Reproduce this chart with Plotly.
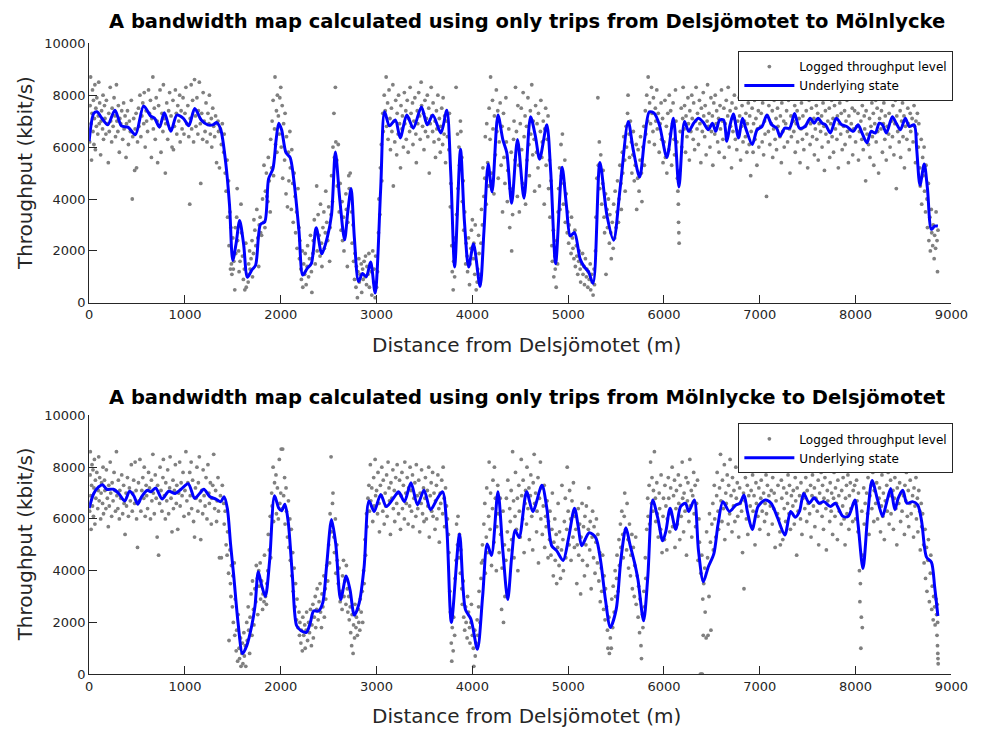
import plotly.graph_objects as go

# ---------------- DATA ----------------
top_title = "A bandwidth map calculated using only trips from Delsjömotet to Mölnlycke"
bot_title = "A bandwidth map calculated using only trips from Mölnlycke to Delsjömotet"
x_label = "Distance from Delsjömotet (m)"
y_label = "Throughput (kbit/s)"
x_ticks = [0, 1000, 2000, 3000, 4000, 5000, 6000, 7000, 8000, 9000]
y_ticks = [0, 2000, 4000, 6000, 8000, 10000]

top_state = [(0,6227),(48,7296),(82,7360),(133,7108),(194,6856),(269,7422),(337,6818),(405,6768),(483,6479),(568,7586),(643,7196),(683,7108),(734,6768),(785,7322),(853,6605),(915,7234),(983,7108),(1040,6818),(1102,7485),(1170,7045),(1238,6856),(1289,6856),(1333,6944),(1374,6667),(1425,5409),(1465,3774),(1499,1635),(1533,2264),(1571,3170),(1612,2264),(1652,981),(1697,1258),(1737,1447),(1788,3019),(1833,3120),(1873,4780),(1918,5158),(1952,6290),(1979,6919),(2009,6667),(2054,5787),(2098,5598),(2139,4655),(2190,2768),(2230,1069),(2275,1321),(2319,1510),(2370,2893),(2428,1887),(2485,2516),(2530,3397),(2570,5812),(2615,4026),(2666,2428),(2700,3522),(2734,4403),(2768,2516),(2812,818),(2853,1132),(2893,1006),(2938,1572),(2985,377),(3043,4403),(3084,7359),(3135,6818),(3196,7045),(3247,6353),(3315,7234),(3383,6730),(3468,7548),(3529,6856),(3587,7234),(3672,6542),(3733,7422),(3774,5032),(3815,1384),(3876,5913),(3917,3145),(3961,1384),(4012,2264),(4080,629),(4121,2768),(4165,5347),(4206,4277),(4267,7234),(4318,6290),(4359,5787),(4410,3837),(4471,6290),(4539,4026),(4607,7170),(4658,6416),(4702,5535),(4777,6856),(4818,5032),(4869,1510),(4937,5221),(4981,3774),(5022,2579),(5066,2705),(5124,1698),(5168,1384),(5212,1195),(5260,755),(5331,5409),(5406,3334),(5474,2415),(5542,4403),(5627,6982),(5678,5913),(5746,4843),(5797,6290),(5848,7359),(5899,7296),(5952,6856),(6030,5598),(6098,7108),(6156,4466),(6214,6982),(6258,6605),(6309,6919),(6360,7108),(6411,6944),(6462,6667),(6506,6919),(6540,6605),(6581,7045),(6622,7045),(6656,6227),(6690,6856),(6724,7271),(6778,6353),(6819,7108),(6853,6730),(6921,6101),(6972,6667),(7023,6793),(7074,7234),(7125,6856),(7176,6730),(7210,6416),(7261,6730),(7312,6730),(7363,7296),(7414,6730),(7472,6793),(7526,7108),(7567,6919),(7608,7108),(7652,6919),(7686,6856),(7737,6542),(7798,7108),(7856,6856),(7907,6793),(7975,6605),(8026,6856),(8067,6542),(8118,6164),(8162,6605),(8206,6542),(8247,6919),(8281,6856),(8322,6542),(8383,7170),(8424,6919),(8468,6667),(8519,7108),(8560,6793),(8611,6856),(8638,5913),(8672,4529),(8716,5347),(8750,4403),(8791,2830),(8825,2956),(8859,2956)]

bot_state = [(0,6416),(48,6984),(99,7237),(139,7325),(184,7148),(252,7148),(309,6984),(371,6694),(422,7073),(466,6896),(507,6568),(547,6858),(609,7110),(643,7047),(694,7199),(762,6770),(830,7073),(898,6984),(959,7148),(1034,7363),(1102,6795),(1153,6984),(1197,7148),(1261,6858),(1323,6770),(1374,6669),(1408,6858),(1442,6416),(1476,5027),(1510,3764),(1554,1996),(1601,796),(1646,1111),(1697,1869),(1731,2627),(1765,3953),(1799,3448),(1839,3006),(1884,4395),(1935,6896),(1979,6416),(2009,6315),(2043,6568),(2077,5911),(2122,3764),(2166,1869),(2213,1680),(2268,1617),(2309,1996),(2343,2438),(2394,2438),(2438,2753),(2479,4206),(2530,5974),(2574,5027),(2625,2880),(2683,3789),(2723,3258),(2768,2273),(2819,2753),(2870,4143),(2921,6694),(2975,6290),(3043,6947),(3101,6479),(3179,6820),(3230,7048),(3291,6669),(3359,7401),(3427,6542),(3495,7111),(3563,6353),(3631,6770),(3689,7048),(3733,5658),(3781,1996),(3866,5406),(3927,2501),(3985,2122),(4053,960),(4107,3006),(4155,5027),(4199,4585),(4267,7048),(4318,4774),(4369,2880),(4410,4522),(4447,5557),(4488,5279),(4566,7048),(4631,6290),(4726,7300),(4777,6416),(4828,4964),(4879,4774),(4947,4395),(5005,5279),(5066,6416),(5107,5658),(5141,4964),(5219,5469),(5287,5279),(5338,4395),(5389,2880),(5440,1806),(5501,2501),(5549,4395),(5603,5658),(5644,5027),(5695,4269),(5729,3637),(5787,2059),(5831,3764),(5882,6732),(5935,6037),(5986,5153),(6020,5532),(6064,6416),(6122,5595),(6173,6479),(6224,6606),(6258,6290),(6316,6732),(6360,4774),(6411,3574),(6462,4143),(6520,4648),(6564,5784),(6615,6669),(6683,6290),(6751,6542),(6792,6606),(6836,6921),(6870,6290),(6921,5595),(6982,6479),(7057,6732),(7118,6606),(7186,6037),(7261,5380),(7322,6290),(7370,6063),(7414,6290),(7458,6984),(7516,6606),(7567,6820),(7618,6606),(7669,6669),(7737,6479),(7788,6606),(7866,6101),(7924,6101),(7992,6732),(8026,5784),(8077,4080),(8128,6226),(8172,7489),(8230,6732),(8281,6101),(8322,6606),(8366,7174),(8410,6353),(8444,6795),(8492,7111),(8536,6606),(8594,6669),(8648,6542),(8689,5911),(8740,4522),(8791,4332),(8825,3384),(8859,2248)]

# logged throughput samples, top panel (distance m, kbit/s)
top_dots_a = [(5,6200),(10,7600),(15,8700),(20,6900),(25,5500),(30,7300),(35,8200),(40,6600),(45,7800),(50,6100),(55,7100),(60,8400),(65,5900),(70,7500),(75,6800),(80,7900),(90,6500),(95,7200),(100,8500),(105,6900),(110,7700),(120,5700),(125,7000),(130,7400),(140,6700),(145,8000),(150,6300),(160,7600),(165,7100),(175,6500),(180,7800),(190,6900),(200,5400),(205,7300),(210,6600),(220,8300),(225,7000),(235,6200),(240,7500),(250,6800),(260,7900),(270,7200),(275,6400),(285,8400),(290,7000),(300,6600),(305,7600),(315,5800),(320,7100),(330,6900),(340,7400),(350,6300),(360,7700),(365,6700),(375,7200),(385,5600),(390,6900),(400,7400),(410,6100),(420,7000),(430,6600),(440,7800),(450,4000),(455,6400),(465,7100),(475,5100),(480,6700),(490,7300),(495,5200)]
top_dots_b = [(505,6200),(515,7500),(520,6800),(530,8000),(540,6400),(550,7200),(560,7700),(570,6900),(575,8100),(585,6000),(595,7400),(600,7000),(610,6600),(620,8200),(630,7300),(640,7800),(650,5600),(655,7100),(665,8700),(670,6700),(680,7500),(690,6300),(700,7900),(710,7000),(715,5400),(725,7600),(735,6800),(740,8200),(750,5800),(760,7300),(770,6600),(775,8400),(785,7100),(795,5000),(800,6900),(810,7700),(820,6300),(830,7400),(840,8100),(845,6700),(855,7200),(865,6000),(875,7800),(880,5900),(890,6800),(900,8200),(910,7300),(915,6500),(925,7600),(935,7000),(945,8000),(950,6200),(960,7400),(970,6700),(980,7900),(990,6500)]
top_dots_c = [(1000,7300),(1010,8300),(1020,6900),(1030,7600),(1040,6400),(1050,3800),(1055,7100),(1065,8400),(1070,6700),(1080,7800),(1090,6200),(1100,8600),(1110,7200),(1115,6800),(1125,7900),(1135,6500),(1140,7400),(1150,8500),(1160,6900),(1165,4600),(1175,7300),(1185,6300),(1190,8100),(1200,7000),(1210,6600),(1220,7700),(1230,6200),(1240,7300),(1250,6900),(1255,8000),(1265,6500),(1275,7100),(1280,6000),(1290,7500),(1300,6800),(1310,6400),(1320,7200),(1330,5400),(1335,6900),(1345,7000),(1350,6600),(1360,5200),(1370,6700),(1380,6100),(1390,6900)]
top_dots_d = [(1405,5800),(1410,6500),(1420,5000),(1430,4300),(1440,5500),(1445,3300),(1455,4700),(1460,2200),(1470,3500),(1475,1300),(1480,2900),(1485,1500),(1490,1100),(1500,2500),(1505,1300),(1510,1600),(1520,500),(1525,2900),(1530,1900),(1540,3300),(1545,4400),(1550,2400),(1560,2000),(1565,1200),(1575,1600),(1585,3800),(1590,2700),(1600,1800),(1610,900),(1620,1300),(1625,500),(1635,2300),(1640,600),(1650,1100),(1660,800),(1665,1500),(1675,2000),(1680,1300),(1690,1700),(1700,2400),(1705,1000),(1715,1900),(1720,3200),(1730,2800),(1740,2200),(1750,3600),(1760,2500),(1770,1400),(1775,3000),(1785,3300),(1790,2700),(1800,2600),(1810,4000),(1820,3100),(1825,5300),(1835,2900),(1840,4300),(1850,5000),(1855,4100),(1865,3900),(1870,5600),(1880,4700),(1890,3500),(1895,6300),(1905,5200),(1910,7000),(1920,7800),(1925,4900),(1935,6700),(1940,8700),(1945,6100),(1955,7400),(1960,5800),(1965,8000),(1975,7200),(1985,6500),(1990,7900)]
top_dots_e = [(2000,8300),(2005,6000),(2015,7600),(2020,4800),(2030,6900),(2040,5500),(2045,7300),(2055,4200),(2060,6400),(2070,3700),(2080,5800),(2085,4700),(2095,6600),(2100,5200),(2110,3600),(2115,5900),(2125,4600),(2130,3100),(2140,5000),(2150,4100),(2155,2700),(2165,3500),(2170,2100),(2180,4400),(2190,2900),(2195,1700),(2200,2400),(2210,1300),(2215,900),(2225,2000),(2230,600),(2240,1500),(2250,1100),(2255,1900),(2265,700),(2275,1400),(2280,2200),(2290,1000),(2300,1700),(2310,2600),(2320,1200),(2325,400),(2335,1900),(2340,2400),(2350,3200),(2360,1500),(2365,2700),(2375,4500),(2380,2000),(2390,3400),(2400,2600),(2410,1800),(2415,3800),(2425,2300),(2430,1400),(2440,2900),(2450,3500),(2455,2100),(2465,2700),(2470,4300),(2480,3100),(2490,2400),(2500,3700),(2510,1600),(2515,2900),(2525,3400),(2530,4900),(2540,3900),(2545,6000),(2555,7300),(2560,5600),(2570,8300),(2575,6200),(2585,5500),(2590,4500)]
top_dots_f = [(2600,6100),(2610,3500),(2620,4600),(2630,2800),(2640,3900),(2645,2400),(2655,3300),(2660,2000),(2670,2700),(2680,4200),(2685,3600),(2695,1400),(2700,3100),(2710,4900),(2715,4400),(2725,5000),(2730,4100),(2740,3500),(2745,2300),(2755,3000),(2760,1600),(2770,900),(2775,1900),(2785,600),(2790,1400),(2800,200),(2805,1200),(2815,1700),(2820,800),(2830,1100),(2840,1500),(2845,400),(2855,1300),(2860,900),(2870,1600),(2880,1000),(2885,1800),(2895,700),(2900,1400),(2910,1100),(2920,1900),(2925,600),(2935,1500),(2945,1200),(2950,300),(2960,2000),(2970,800),(2975,1300),(2985,200),(2990,1800),(3000,600),(3010,1200),(3020,2700),(3025,4000),(3035,3400),(3040,5200),(3050,6100),(3055,4700),(3065,7300),(3070,6600),(3080,8000),(3090,7400)]
top_dots_g = [(3100,8700),(3105,6800),(3115,7700),(3120,6300),(3130,8200),(3140,7100),(3145,5900),(3155,7500),(3160,6600),(3170,8400),(3175,4500),(3185,7000),(3190,6200),(3200,7800),(3210,5700),(3215,7300),(3225,6500),(3230,8000),(3240,6900),(3250,5200),(3255,7600),(3265,6700),(3270,7200),(3280,6000),(3290,8100),(3295,6900),(3305,7400),(3310,6300),(3320,7800),(3330,5800),(3335,7100),(3345,6600),(3350,8300),(3360,7300),(3365,6800),(3375,7700),(3380,6100),(3390,7000),(3400,7900),(3410,6500),(3415,5400),(3425,7400),(3430,6900),(3440,8100),(3450,7200),(3455,6300),(3465,8500),(3470,7600),(3480,6800),(3490,7300),(3495,5900),(3505,7800),(3510,6600),(3520,7100),(3530,8000),(3535,6400),(3545,7500),(3550,5000),(3560,6900),(3570,8300),(3575,7200),(3585,6600),(3590,7700),(3600,6200),(3610,7000),(3615,5600),(3625,7400),(3630,6700),(3640,8000),(3650,6300),(3655,7100),(3665,5800),(3670,6800),(3680,7500),(3690,6100),(3695,7900),(3705,6500),(3710,7200),(3720,5400),(3730,7000),(3740,6400)]
top_dots_h = [(3755,5900),(3760,7300),(3770,3700),(3775,4600),(3785,2200),(3790,1200),(3800,500),(3805,1600),(3815,1000),(3820,2500),(3830,8300),(3835,3400),(3845,6500),(3850,4400),(3860,6000),(3865,5300),(3875,7000),(3880,6600),(3890,5600),(3895,3900),(3905,4700),(3910,2800),(3920,3500),(3930,1500),(3935,2300),(3945,1800),(3950,1200),(3960,2500),(3970,700),(3975,1500),(3985,2100),(3990,2800),(4000,3200),(4010,1700),(4015,2300),(4025,1100),(4030,3000),(4040,500),(4050,800),(4055,1300),(4065,2600),(4070,1900),(4080,1100),(4090,2300),(4095,3600),(4105,3000),(4110,5200),(4120,4100),(4130,4800),(4135,6400),(4145,3800),(4150,6900),(4160,5400),(4170,4500),(4175,7500),(4185,6300),(4190,8700),(4200,5000),(4210,7800),(4215,6700),(4225,4200),(4230,7200),(4240,5700),(4250,8200),(4255,6600),(4265,7400),(4270,4800),(4280,6200),(4290,7700)]
top_dots_i = [(4300,5300),(4310,6800),(4315,3500),(4325,7300),(4330,5600),(4340,4600),(4350,7900),(4355,6200),(4365,3900),(4370,5100),(4380,6700),(4390,2900),(4395,4400),(4405,5800),(4410,2000),(4420,3400),(4430,6300),(4435,7000),(4445,5500),(4450,8300),(4460,6600),(4470,4100),(4475,7600),(4485,5300),(4490,3500),(4500,6900),(4510,7500),(4515,5900),(4525,4600),(4530,8100),(4540,6400),(4550,7200),(4555,3800),(4565,6800),(4570,5500),(4580,7900),(4590,6100),(4595,4900),(4605,7400),(4610,6500),(4620,8400),(4630,5700),(4635,7000),(4645,6300),(4650,4300),(4660,7600),(4670,5800),(4675,6900),(4685,5200),(4690,7300),(4700,4500),(4710,6600),(4715,7800),(4725,5600),(4730,6200),(4740,7000),(4750,3800),(4755,6700),(4765,7500),(4770,5300),(4780,6300),(4790,7200),(4795,4400),(4805,5500),(4810,3300),(4820,4700),(4830,2200),(4835,1600),(4845,2800),(4850,1000),(4860,1800),(4865,1300),(4875,600),(4880,2400),(4890,1500),(4895,3500)]
top_dots_j = [(4900,4400),(4910,5200),(4915,3600),(4925,6100),(4930,4900),(4940,6500),(4950,3800),(4955,4600),(4965,5500),(4970,3100),(4980,4200),(4990,2700),(4995,3500),(5005,2300),(5010,3000),(5020,2600),(5030,1900),(5035,3300),(5045,2500),(5050,2100),(5060,1700),(5070,2800),(5075,1400),(5085,2200),(5090,1800),(5100,1100),(5110,1600),(5115,2000),(5125,1300),(5130,800),(5140,1500),(5150,1900),(5155,1100),(5165,1400),(5170,700),(5180,1700),(5190,1000),(5195,1300),(5205,600),(5210,1200),(5220,900),(5230,1500),(5235,500),(5245,1100),(5250,800),(5260,300),(5270,1300),(5275,700),(5285,2000),(5290,3300),(5300,4800),(5310,7900),(5315,5300),(5325,6200),(5330,4400),(5340,5700),(5350,3800),(5360,4600),(5365,5100),(5375,3300),(5380,2700),(5390,4200),(5395,1100)]
top_dots_k = [(5405,3600),(5410,2900),(5420,4000),(5430,2300),(5435,3400),(5445,2700),(5450,1700),(5460,3100),(5470,2100),(5475,3800),(5485,2500),(5490,4300),(5500,2900),(5510,3500),(5515,4700),(5525,3100),(5530,4000),(5540,5300),(5550,4600),(5555,3600),(5565,5800),(5570,5000),(5580,6400),(5590,5500),(5595,4300),(5605,6800),(5610,6000),(5620,7300),(5625,8000),(5635,6500),(5640,5600),(5650,7000),(5660,6200),(5665,5000),(5675,5700),(5680,6600),(5690,4700),(5700,5300),(5710,6100),(5715,3600),(5725,4800),(5730,5900),(5740,4300),(5750,5500),(5755,6400),(5765,5000),(5770,3900),(5780,6000),(5790,6800),(5795,5300),(5805,7400),(5810,6500),(5820,8000),(5830,7000),(5835,8700),(5845,6200),(5850,7700),(5860,6900),(5870,8300),(5875,7300),(5885,6600),(5890,7900),(5900,6100),(5910,7500),(5915,7000),(5925,8200),(5930,6700),(5940,7300),(5950,5800),(5960,6900),(5970,7700),(5975,6300),(5985,7100),(5990,5400)]
top_dots_l = [(6000,6200),(6010,7800),(6015,5600),(6025,6800),(6030,5000),(6040,7300),(6050,5900),(6055,8000),(6065,6500),(6070,7400),(6080,5300),(6090,6900),(6095,7700),(6105,6300),(6110,5700),(6120,8200),(6125,7000),(6135,6200),(6140,4800),(6145,4300),(6150,3800),(6152,3100),(6155,2700),(6158,2300),(6165,5100),(6170,6600),(6180,7500),(6185,6000),(6195,7100),(6200,8300),(6210,6700),(6215,7600),(6225,5800),(6230,7200),(6240,6400),(6250,7900),(6255,6900),(6265,5500),(6270,7400),(6280,6600),(6290,8000),(6295,7100),(6305,6300),(6310,7700),(6320,5900),(6330,7000),(6335,8300),(6345,6700),(6350,7300),(6360,6100),(6370,7800),(6375,6900),(6385,5400),(6390,7500),(6400,6600),(6410,8100),(6415,7200),(6425,6400),(6430,7600),(6440,5700),(6450,7000),(6455,8400),(6465,6800),(6470,7300),(6480,6000),(6490,7900),(6495,6600),(6505,7200),(6510,5300),(6520,7700),(6530,6500),(6535,8000),(6545,6900),(6550,7400),(6560,6200),(6570,7100),(6575,5800),(6585,7600),(6590,6700)]
top_dots_m = [(6600,8200),(6610,7000),(6615,6300),(6625,7500),(6630,5600),(6640,6900),(6650,7800),(6655,6500),(6665,7200),(6670,8300),(6680,6000),(6690,7400),(6695,6800),(6705,5200),(6710,7700),(6720,6600),(6730,7100),(6735,8000),(6745,6300),(6750,7500),(6760,5900),(6770,7000),(6775,6600),(6785,7900),(6790,7200),(6800,5500),(6810,6800),(6815,7600),(6825,6200),(6830,8100),(6840,7000),(6850,6400),(6855,7300),(6865,5800),(6870,6900),(6880,7700),(6890,6100),(6895,7200),(6905,4900),(6910,6600),(6920,7500),(6930,5800),(6935,6900),(6945,7800),(6950,6300),(6960,7100),(6970,5300),(6975,6700),(6985,7400),(6990,6000),(7000,8000),(7010,6800),(7015,7300),(7025,6200),(7030,7700),(7040,5700),(7050,7000),(7055,6500),(7065,7900),(7070,4100),(7080,7200),(7090,6600),(7095,7600),(7105,6100),(7110,8200),(7120,6900),(7130,7400),(7135,5600),(7145,6700),(7150,7800),(7160,6300),(7170,7100),(7175,5900),(7185,7500),(7190,6800),(7200,8100),(7210,6400),(7215,7200),(7225,5400),(7230,7700),(7240,6600),(7250,7000),(7255,6000),(7265,7900),(7270,6900),(7280,7400),(7290,6200)]
top_dots_n = [(7300,7800),(7310,6700),(7315,5000),(7325,7200),(7330,6400),(7340,8200),(7350,7000),(7355,6600),(7365,7600),(7370,5800),(7380,6900),(7390,7400),(7395,6200),(7405,8000),(7410,7100),(7420,5400),(7430,6700),(7435,7700),(7445,6300),(7450,7200),(7460,5900),(7470,8100),(7475,6800),(7485,7400),(7490,6500),(7500,5200),(7510,7000),(7515,7800),(7525,6100),(7530,6900),(7540,7500),(7550,6400),(7555,8200),(7565,7100),(7570,5700),(7580,6700),(7590,7600),(7595,6300),(7605,7300),(7610,5500),(7620,6900),(7630,7900),(7635,6600),(7645,7200),(7650,6000),(7660,7700),(7670,6800),(7675,5100),(7685,7400),(7690,6500),(7700,8000),(7710,7000),(7715,6200),(7725,7500),(7730,5600),(7740,6900),(7750,7800),(7755,6400),(7765,7100),(7770,5800),(7780,7600),(7790,6700),(7795,8100),(7805,6300),(7810,7200),(7820,5200),(7830,6900),(7835,7700),(7845,6500),(7850,7300),(7860,5900),(7870,7900),(7875,6800),(7885,7400),(7890,6100),(7900,7000),(7910,7800),(7915,6600),(7925,5400),(7930,7200),(7940,6400),(7950,8200),(7955,6900),(7965,7500),(7970,5700),(7980,6700),(7990,7400)]
top_dots_o = [(8000,6200),(8010,7900),(8015,6800),(8025,7300),(8030,5500),(8040,6600),(8050,8100),(8055,7000),(8065,6300),(8070,7600),(8080,5900),(8090,7200),(8095,6700),(8105,4700),(8110,7400),(8120,6500),(8130,8000),(8135,6100),(8145,7100),(8150,5600),(8160,6800),(8170,7700),(8175,6400),(8185,7300),(8190,5300),(8200,6900),(8210,7800),(8215,6200),(8225,7500),(8230,6600),(8240,5000),(8250,7100),(8255,8200),(8265,6700),(8270,7400),(8280,5800),(8290,6900),(8295,7700),(8305,6300),(8310,7200),(8320,5500),(8330,6800),(8335,7900),(8345,6500),(8350,7300),(8360,6000),(8370,8100),(8375,7000),(8385,6400),(8390,7600),(8400,5700),(8410,6900),(8415,7800),(8425,4400),(8430,7200),(8440,6600),(8450,8000),(8455,6200),(8465,7400),(8470,5600),(8480,7000),(8490,7700),(8495,6400),(8505,7200),(8510,5200),(8520,6800),(8530,7900),(8535,6300),(8545,7500),(8550,6900),(8560,5900),(8570,7300),(8575,6600),(8585,8100),(8590,7100),(8600,6200),(8610,7600),(8615,6800),(8625,5400),(8630,7000),(8640,6500),(8645,7300)]
top_dots_p = [(8655,6000),(8660,6900),(8670,5200),(8675,4500),(8685,6300),(8690,3800),(8700,5600),(8705,4900),(8715,6000),(8720,4300),(8730,3500),(8735,5300),(8745,4000),(8750,2900),(8760,4600),(8765,2400),(8775,3300),(8780,2000),(8790,3600),(8795,2700),(8805,2200),(8810,3000),(8820,1700),(8825,2600),(8835,2100),(8840,3500),(8850,2400),(8855,1200),(8860,2800)]

# logged throughput samples, bottom panel (distance m, kbit/s)
bot_dots_a = [(5,6300),(10,7700),(12,8600),(15,6900),(20,5600),(25,7300),(30,8100),(35,6500),(40,7900),(45,6100),(50,7200),(55,8300),(60,5800),(65,7500),(70,6800),(80,7800),(90,6400),(95,7100),(100,8400),(105,6700),(110,7600),(120,6000),(125,7000),(130,7400),(140,6600),(145,8000),(150,6200),(160,7500),(165,7100),(175,6400),(180,7900),(190,6800),(200,5700),(205,7300),(210,6500),(220,8200),(225,7000),(235,6100),(240,7400),(250,6700),(260,7800),(270,7100),(275,6300),(285,8600),(290,6900),(300,6400),(305,7500),(315,6000),(320,7100),(330,6800),(340,7700),(350,6200),(360,7300),(365,6600),(375,5400),(385,7000),(390,6500),(400,7600),(410,6100),(420,7200),(430,6700),(440,8100),(450,6300),(455,7000),(465,7500),(475,6600),(480,8200),(490,7100),(495,6000)]
bot_dots_b = [(505,4900),(515,7400),(520,6700),(530,8300),(540,6300),(550,7100),(560,7600),(570,6800),(575,8000),(585,6100),(595,7300),(600,6900),(610,6400),(620,7800),(630,7200),(640,6000),(650,7500),(655,6700),(665,8500),(670,7000),(680,6200),(690,7700),(700,6800),(710,5300),(715,7300),(725,4600),(735,6600),(740,8000),(750,7100),(760,6300),(770,7600),(775,8300),(785,6900),(795,6000),(800,7400),(810,6700),(820,7900),(830,6200),(840,7200),(845,8400),(855,6800),(865,5500),(875,7500),(880,6400),(890,7100),(900,8100),(910,6600),(915,7300),(925,5600),(935,7000),(945,8200),(950,6500),(960,7400),(970,6900),(980,7800),(990,6100)]
bot_dots_c = [(1000,7100),(1010,8600),(1020,6700),(1030,7400),(1040,6200),(1050,7800),(1055,6900),(1065,8200),(1070,6400),(1080,7500),(1090,5900),(1100,5300),(1110,7200),(1115,6800),(1125,8000),(1135,6300),(1140,7400),(1150,8400),(1160,6700),(1165,5200),(1175,7100),(1185,6200),(1190,7900),(1200,6900),(1210,6500),(1220,7600),(1230,6000),(1240,8100),(1250,7000),(1255,6600),(1265,7400),(1275,5800),(1280,6800),(1290,7300),(1300,8500),(1310,6400),(1320,7100),(1330,5900),(1335,6700),(1345,7600),(1350,6300),(1360,4500),(1370,6900),(1380,4500),(1390,7300)]
bot_dots_d = [(1405,6600),(1410,5800),(1420,6300),(1430,5000),(1440,4600),(1445,5500),(1455,3900),(1460,1300),(1470,4800),(1475,3500),(1480,3000),(1485,4200),(1495,2600),(1500,3800),(1505,2000),(1515,4300),(1520,1500),(1525,2900),(1535,900),(1540,1700),(1550,500),(1555,2300),(1565,1000),(1570,600),(1580,1400),(1585,300),(1595,800),(1600,1200),(1605,400),(1615,1600),(1620,700),(1630,1100),(1635,300),(1645,2000),(1650,1300),(1660,2600),(1665,1700),(1675,800),(1680,2200),(1690,3100),(1700,1500),(1705,3600),(1715,2500),(1720,1900),(1730,3300),(1740,2800),(1745,4200),(1755,3700),(1760,2300),(1770,4000),(1775,3400),(1785,4300),(1790,2900),(1800,3600),(1810,2500),(1815,3100),(1825,2800),(1830,4600),(1840,3000),(1850,2700),(1855,3500),(1865,4000),(1870,5400),(1880,4800),(1890,6100),(1895,4500),(1905,7000),(1910,6500),(1920,8000),(1925,5900),(1935,7400),(1940,6800),(1950,7700),(1955,6200),(1965,7200),(1975,6000),(1985,8300),(1990,6600)]
bot_dots_e = [(2000,7000),(2005,8700),(2015,6400),(2020,8700),(2030,6900),(2040,7600),(2045,5800),(2055,7200),(2060,6300),(2070,5300),(2080,6700),(2085,4900),(2095,6000),(2100,4400),(2110,5600),(2115,3800),(2125,4700),(2130,3200),(2140,4100),(2150,2600),(2155,3500),(2165,2100),(2170,2900),(2180,1800),(2190,2400),(2195,1500),(2200,2000),(2210,1200),(2215,1700),(2225,900),(2230,2200),(2240,1500),(2250,1900),(2255,1000),(2265,1700),(2270,2400),(2280,1300),(2290,2000),(2300,1600),(2310,2500),(2320,1100),(2325,1900),(2335,2700),(2340,1400),(2350,2200),(2360,3000),(2365,1800),(2375,2500),(2380,3300),(2390,2100),(2400,2800),(2410,3500),(2415,2400),(2425,1800),(2430,3100),(2440,2600),(2450,3800),(2455,2200),(2465,3300),(2470,2900),(2480,4200),(2490,3600),(2500,5000),(2510,4300),(2515,6200),(2525,8400),(2530,5500),(2540,6600),(2545,7000),(2555,5300),(2560,4700),(2570,6000),(2575,3900),(2585,5000),(2590,4400)]
bot_dots_f = [(2600,3500),(2610,4100),(2620,2800),(2630,3200),(2640,2500),(2645,3800),(2655,4400),(2660,3000),(2670,3600),(2680,2700),(2685,4200),(2695,3300),(2700,2400),(2710,3000),(2715,2100),(2725,2600),(2730,1600),(2740,1100),(2745,2300),(2755,800),(2760,1900),(2770,1400),(2775,2700),(2785,1800),(2790,2200),(2800,1500),(2810,2500),(2815,2000),(2825,1700),(2830,2900),(2840,2400),(2850,3200),(2855,2000),(2865,4000),(2870,3500),(2880,5200),(2885,4600),(2895,6200),(2900,5700),(2910,6800),(2920,7300),(2925,6300),(2935,8100),(2940,6700),(2950,7200),(2960,5900),(2970,7600),(2975,6500),(2985,8300),(2990,6900)]
bot_dots_g = [(3000,7100),(3010,6200),(3015,7800),(3025,6600),(3030,5500),(3040,7300),(3050,6900),(3055,8000),(3065,6300),(3070,7500),(3080,5800),(3090,7000),(3095,6500),(3105,7700),(3110,6100),(3120,8200),(3130,7200),(3135,6700),(3145,5400),(3150,7400),(3160,6800),(3170,7900),(3175,6400),(3185,7100),(3190,5900),(3200,7600),(3210,6600),(3215,8100),(3225,7000),(3230,6200),(3240,7500),(3250,5600),(3255,6900),(3265,7800),(3270,6400),(3280,7300),(3290,6000),(3295,8200),(3305,7000),(3310,6600),(3320,7600),(3330,5800),(3335,7200),(3345,6500),(3350,8000),(3360,7100),(3365,6300),(3375,7700),(3380,5700),(3390,6800),(3400,7400),(3410,6100),(3415,8100),(3425,6900),(3430,6400),(3440,7500),(3450,5500),(3455,7000),(3465,6600),(3470,7900),(3480,6200),(3490,7200),(3495,5900),(3505,6800),(3510,7600),(3520,6000),(3530,7100),(3535,6500),(3545,8000),(3550,5300),(3560,6900),(3570,7400),(3575,6300),(3585,7800),(3590,6100),(3600,7000),(3610,5600),(3615,6700),(3625,7300),(3630,6000),(3640,7700),(3650,6400),(3655,5100),(3665,7000),(3670,6600),(3680,7500),(3690,6200),(3695,8000),(3705,6800),(3710,5700),(3720,7200),(3730,6500),(3740,6000)]
bot_dots_h = [(3750,5400),(3755,4700),(3765,3200),(3770,2400),(3780,1200),(3785,500),(3790,1800),(3800,900),(3805,2200),(3815,1500),(3820,3700),(3830,4400),(3835,5800),(3845,5000),(3850,6100),(3860,4500),(3865,5400),(3875,3900),(3880,4800),(3890,3300),(3895,2700),(3905,3600),(3910,2200),(3920,1700),(3930,2600),(3935,2000),(3945,1400),(3950,3000),(3960,2400),(3970,1800),(3975,1200),(3985,2000),(3990,2700),(4000,1500),(4010,1000),(4015,300),(4025,1700),(4030,700),(4040,1200),(4050,2100),(4055,1500),(4065,2600),(4070,3200),(4080,2000),(4090,3700),(4095,4300)]
bot_dots_i = [(4105,5000),(4110,4400),(4120,5800),(4130,6600),(4135,3900),(4145,5300),(4150,7200),(4160,4700),(4170,6100),(4175,8200),(4185,5600),(4190,7000),(4200,4200),(4210,6400),(4215,7500),(4225,5100),(4230,8000),(4240,6800),(4250,4000),(4255,5700),(4265,7300),(4270,6200),(4280,4700),(4290,6800),(4295,5400),(4305,2500),(4310,4100),(4320,6300),(4325,2000),(4335,5000),(4340,3000),(4350,4400),(4355,6800),(4365,5500),(4370,7500),(4380,4800),(4390,6400),(4395,5900),(4405,7100),(4410,5200),(4420,8600),(4430,6700),(4435,4500),(4445,6100),(4450,7800),(4460,5600),(4470,6800),(4475,4000),(4485,7300),(4490,6300),(4500,5300),(4510,8300),(4515,6900),(4525,6000),(4530,7500),(4540,4700),(4550,6600),(4555,7100),(4565,5800),(4570,8000),(4580,6400),(4590,7200),(4595,5200),(4605,6900),(4610,7700),(4620,6100),(4630,4800),(4635,7400),(4645,8500),(4650,6600),(4660,7000),(4670,5500),(4675,6300),(4685,7600),(4690,4300),(4700,6800),(4710,8200),(4715,6000),(4725,7200),(4730,5400),(4740,6500),(4750,7300),(4755,4900),(4765,6100),(4770,5700),(4780,6700),(4790,4500),(4795,5900)]
bot_dots_j = [(4805,5200),(4810,6300),(4820,4600),(4830,5600),(4835,7000),(4845,3800),(4850,5100),(4860,6000),(4865,4400),(4875,5400),(4880,3500),(4890,4900),(4895,6600),(4905,4200),(4910,5500),(4920,3700),(4930,4800),(4935,7300),(4945,5200),(4950,4000),(4960,5900),(4970,6800),(4975,4500),(4985,5600),(4990,8000),(5000,6300),(5010,5000),(5015,7100),(5025,6000),(5030,4400),(5040,6700),(5050,5300),(5055,7400),(5065,4900),(5070,6100),(5080,5600),(5090,3500),(5095,5000),(5105,6400),(5110,4600),(5120,5800),(5130,3100),(5135,5300),(5145,6600),(5150,4400),(5160,5700),(5170,3800),(5175,6100),(5185,5000),(5190,6500),(5200,4200),(5210,5600),(5215,7200),(5225,4800),(5230,5900),(5240,3300),(5250,5300),(5255,6300),(5265,4500),(5270,5700),(5280,3900),(5290,5100),(5295,6000),(5305,4300),(5310,5400),(5320,3600),(5330,4700),(5335,2800),(5345,4100),(5350,3200),(5360,4600),(5370,2500),(5375,3800),(5385,2100),(5390,3300)]
bot_dots_k = [(5400,2600),(5410,1700),(5415,1000),(5425,2200),(5430,800),(5440,1400),(5450,1000),(5455,2900),(5465,1800),(5470,3400),(5480,2400),(5490,4000),(5495,3000),(5505,3700),(5510,4600),(5520,3200),(5530,5200),(5535,4200),(5545,5800),(5550,4900),(5560,6300),(5570,5400),(5575,4500),(5585,6100),(5590,7000),(5600,5600),(5610,4800),(5615,6600),(5625,5200),(5630,4100),(5640,5800),(5650,3800),(5655,4600),(5665,5400),(5670,3300),(5680,4900),(5690,3000),(5695,4200),(5705,5300),(5710,2700),(5720,3800),(5730,2200),(5735,3400),(5745,1600),(5750,2900),(5760,1100),(5765,600),(5775,2300),(5780,1800),(5790,3200),(5795,2600),(5805,4500),(5810,3700),(5820,5600),(5830,6800),(5835,6100),(5845,7300),(5850,5800),(5860,8200),(5870,6600),(5875,7600),(5885,6300),(5890,7100)]
bot_dots_l = [(5900,8600),(5910,6800),(5915,5900),(5925,7400),(5930,6200),(5940,5300),(5950,7000),(5955,6400),(5965,5600),(5970,7700),(5980,4700),(5990,6100),(5995,6800),(6005,5200),(6010,7300),(6020,6500),(6030,4800),(6035,6000),(6045,7600),(6050,6800),(6060,5500),(6070,7200),(6075,6200),(6085,8000),(6090,5700),(6100,6900),(6110,7500),(6115,4900),(6125,6400),(6130,7100),(6140,5800),(6150,7700),(6155,6600),(6165,5200),(6170,7300),(6180,6100),(6190,8200),(6195,6800),(6205,5500),(6210,7000),(6220,6300),(6230,7600),(6235,4600),(6245,6700),(6250,7400),(6260,5900),(6270,8300),(6275,6500),(6285,7100),(6290,5300),(6300,6900),(6310,7800),(6315,6200),(6325,7300),(6330,5700),(6340,6600),(6350,7500),(6355,4400),(6365,6000),(6370,5100),(6380,0),(6385,3900),(6390,0),(6395,4600),(6400,0),(6405,2900),(6410,1500),(6415,3500),(6425,4100),(6430,2400),(6440,1400),(6445,5500),(6455,4500),(6460,1500),(6470,3000),(6475,6200),(6485,5100),(6490,1700),(6500,5800)]
bot_dots_m = [(6510,6600),(6515,4800),(6525,7300),(6530,6000),(6540,5300),(6550,6900),(6555,7800),(6565,6300),(6570,5600),(6580,7200),(6590,8500),(6595,6700),(6605,5900),(6610,7500),(6620,6400),(6630,8100),(6635,5200),(6645,7000),(6650,6600),(6660,7700),(6670,5800),(6675,7300),(6685,6200),(6690,8300),(6700,6900),(6710,5500),(6715,7600),(6725,6500),(6730,7100),(6740,5900),(6750,8000),(6755,6800),(6765,7400),(6770,6100),(6780,5300),(6790,7200),(6795,6600),(6805,7900),(6810,6300),(6820,4700),(6830,7000),(6835,3300),(6845,6700),(6850,7600),(6860,6000),(6870,7300),(6875,5400),(6885,6900),(6890,8200),(6900,6500),(6910,7100),(6915,5700),(6925,7700),(6930,6300),(6940,6900),(6950,5000),(6960,7400),(6965,6600),(6975,8000),(6980,6100),(6990,7200),(7000,5600),(7010,6800),(7015,7500),(7025,6300),(7030,8300),(7040,7000),(7050,5900),(7055,6600),(7065,7700),(7070,6200),(7080,7300),(7090,5400),(7095,6900),(7105,8100),(7110,6500),(7120,7100),(7130,5800),(7135,7600),(7145,6400),(7150,7000),(7160,4900),(7170,6700),(7175,7900),(7185,6200),(7190,7300)]
bot_dots_n = [(7200,6000),(7210,5500),(7215,5000),(7225,7500),(7230,6800),(7240,5200),(7250,7200),(7255,6400),(7265,8200),(7270,5900),(7280,7000),(7290,6600),(7295,7700),(7305,6200),(7310,7300),(7320,5600),(7330,6900),(7335,8000),(7345,6500),(7350,7100),(7360,5800),(7370,7600),(7375,6700),(7385,4600),(7390,7200),(7400,6300),(7410,7900),(7415,6900),(7425,6000),(7430,7400),(7440,5400),(7450,6800),(7455,8300),(7465,7000),(7470,6400),(7480,7600),(7490,5900),(7495,7100),(7505,6600),(7510,8000),(7520,6200),(7530,7300),(7535,5300),(7545,6900),(7550,7700),(7560,6500),(7570,7200),(7575,5700),(7585,6800),(7590,8100),(7600,6300),(7610,7500),(7615,5000),(7625,7000),(7630,6600),(7640,7800),(7650,6100),(7655,7300),(7665,5600),(7670,6800),(7680,7600),(7690,6400),(7695,4800),(7705,7100),(7710,6700),(7720,8200),(7730,5900),(7735,7400),(7745,6300),(7750,7000),(7760,5400),(7770,6800),(7775,7800),(7785,6100),(7790,7200),(7800,6600),(7810,5200),(7815,7500),(7825,6900),(7830,6300),(7840,7900),(7850,5800),(7855,7100),(7865,6500),(7870,7600),(7880,6000),(7890,5000),(7895,6800),(7905,7300),(7910,6200),(7920,7700),(7930,5600),(7935,6900),(7945,7400),(7950,6400),(7960,8000),(7970,5900),(7975,7100),(7985,6600),(7990,7300)]
bot_dots_o = [(8000,6000),(8010,7500),(8015,6700),(8025,5500),(8030,7000),(8040,4000),(8045,2800),(8050,3500),(8055,1000),(8060,2200),(8065,6300),(8070,1800),(8075,4600),(8085,7200),(8090,5800),(8100,6600),(8110,8000),(8115,7000),(8125,6200),(8130,7600),(8140,5400),(8150,6900),(8155,8300),(8165,7300),(8170,6400),(8180,7800),(8190,5900),(8195,7100),(8205,8600),(8210,6600),(8220,7400),(8230,6000),(8235,8000),(8245,6800),(8250,7200),(8260,5500),(8270,6500),(8275,7700),(8285,6100),(8290,7000),(8300,5200),(8310,6700),(8315,8100),(8325,7300),(8330,6300),(8340,7800),(8350,5800),(8355,6900),(8365,7500),(8370,6200),(8380,8200),(8390,7100),(8395,5600),(8405,6800),(8410,7600),(8420,6400),(8430,5000),(8435,7200),(8445,8000),(8450,6600),(8460,7400),(8470,5900),(8475,7000),(8485,6300),(8490,8100),(8500,6900),(8510,5400),(8515,7300),(8525,6700),(8530,7800),(8540,6100),(8550,7100),(8555,5700),(8565,6600),(8570,7500),(8580,6200),(8590,8000),(8595,6900),(8605,5300),(8610,7200),(8620,6500),(8630,7600),(8635,6000),(8645,6800),(8650,5500),(8660,7100),(8670,6300),(8675,4800),(8685,6600),(8690,5700)]
bot_dots_p = [(8700,6200),(8710,5000),(8715,4300),(8725,5600),(8730,3700),(8740,4900),(8745,3200),(8755,4400),(8760,5200),(8770,2800),(8780,3900),(8785,4600),(8795,2500),(8800,3400),(8810,2100),(8815,3000),(8825,2600),(8830,1900),(8840,2900),(8845,2300),(8850,1500),(8852,2700),(8855,1100),(8856,2000),(8858,800),(8860,600),(8862,400)]

top_dots = (top_dots_a + top_dots_b + top_dots_c + top_dots_d + top_dots_e + top_dots_f + top_dots_g + top_dots_h
            + top_dots_i + top_dots_j + top_dots_k + top_dots_l + top_dots_m + top_dots_n + top_dots_o + top_dots_p)
bot_dots = (bot_dots_a + bot_dots_b + bot_dots_c + bot_dots_d + bot_dots_e + bot_dots_f + bot_dots_g + bot_dots_h
            + bot_dots_i + bot_dots_j + bot_dots_k + bot_dots_l + bot_dots_m + bot_dots_n + bot_dots_o + bot_dots_p)

# ---------------- FIGURE ----------------
W, H = 987, 735
FONT = "DejaVu Sans"
AX = "#262626"

def px(v):
    return v / W

def py(v):
    return (H - v) / H

fig = go.Figure()

panels = [
    (top_dots, top_state, "x", "y", "legend"),
    (bot_dots, bot_state, "x2", "y2", "legend2"),
]
for dots, state, xa, ya, lg in panels:
    fig.add_trace(go.Scatter(
        x=[p[0] for p in dots], y=[p[1] for p in dots], mode="markers",
        marker=dict(size=3.8, color="#808080", line=dict(width=0)),
        name="Logged throughput level", xaxis=xa, yaxis=ya, legend=lg))
    fig.add_trace(go.Scatter(
        x=[p[0] for p in state], y=[p[1] for p in state], mode="lines",
        line=dict(color="#0000ff", width=3, shape="spline", smoothing=0.8),
        name="Underlying state", xaxis=xa, yaxis=ya, legend=lg))

xdom = [px(87), px(968)]
axis_common = dict(showline=True, linecolor=AX, linewidth=1, ticks="inside", ticklen=8,
                   tickcolor=AX, tickwidth=1, showgrid=False, zeroline=False, mirror=False,
                   tickfont=dict(family=FONT, size=13, color=AX))
y_text = [str(v) for v in y_ticks]
x_text = [str(v) for v in x_ticks]

legend_common = dict(xanchor="right", yanchor="top", bgcolor="white",
                     bordercolor=AX, borderwidth=1, font=dict(family=FONT, size=12, color="black"),
                     tracegroupgap=0, itemwidth=50)

fig.update_layout(
    width=W, height=H, margin=dict(l=0, r=0, t=0, b=0),
    paper_bgcolor="white", plot_bgcolor="white",
    font=dict(family=FONT, color=AX),
    xaxis=dict(domain=xdom, range=[0, 9000], tickvals=x_ticks, ticktext=x_text, anchor="y", **axis_common),
    yaxis=dict(domain=[py(302), py(37)], range=[0, 10000], tickvals=y_ticks, ticktext=y_text, anchor="x", **axis_common),
    xaxis2=dict(domain=xdom, range=[0, 9000], tickvals=x_ticks, ticktext=x_text, anchor="y2", **axis_common),
    yaxis2=dict(domain=[py(681), py(417)], range=[0, 10000], tickvals=y_ticks, ticktext=y_text, anchor="x2", **axis_common),
    legend=dict(x=px(970), y=py(45), **legend_common),
    legend2=dict(x=px(970), y=py(425), **legend_common),
    showlegend=True,
)

ann = []
for title, ty, xy in [(top_title, 15, 345), (bot_title, 399, 724)]:
    ann.append(dict(text="<b>" + title + "</b>", x=px(534), y=py(ty), xref="paper", yref="paper",
                    showarrow=False, xanchor="center", yanchor="middle",
                    font=dict(family=FONT, size=19.5, color="black")))
    ann.append(dict(text=x_label, x=px(534), y=py(xy), xref="paper", yref="paper",
                    showarrow=False, xanchor="center", yanchor="middle",
                    font=dict(family=FONT, size=20, color=AX)))
for cy in [170, 549]:
    ann.append(dict(text=y_label, x=px(21), y=py(cy), xref="paper", yref="paper",
                    showarrow=False, xanchor="center", yanchor="middle", textangle=-90,
                    font=dict(family=FONT, size=20, color=AX)))
fig.update_layout(annotations=ann)

fig.write_html("out.html")
